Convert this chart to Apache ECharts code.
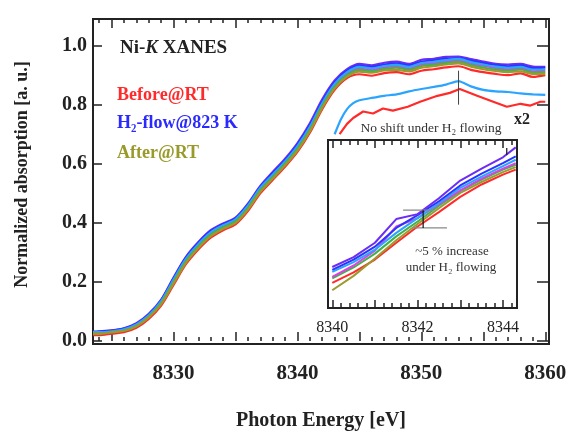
<!DOCTYPE html>
<html>
<head>
<meta charset="utf-8">
<script src="https://cdn.jsdelivr.net/npm/echarts@6/dist/echarts.min.js"></script>
<style>
  html, body { margin: 0; padding: 0; background: #fff; }
  #main { width: 585px; height: 436px; }
</style>
</head>
<body>
<div id="main"></div>
<script>
// photon energy grid of the main spectra [eV]
const energy = [8323.5, 8324, 8325, 8326, 8327, 8328, 8329, 8330, 8331, 8332, 8333, 8334, 8335,
  8336, 8337, 8338, 8339, 8340, 8341, 8342, 8343, 8344, 8345, 8346, 8347, 8348, 8349, 8350,
  8351, 8352, 8353, 8354, 8355, 8356, 8357, 8358, 8359, 8360];

// normalized absorption, one array per measurement
const before = [0.02, 0.02, 0.025, 0.03, 0.045, 0.075, 0.12, 0.19, 0.26, 0.31, 0.35, 0.375, 0.395,
  0.44, 0.50, 0.545, 0.59, 0.64, 0.705, 0.785, 0.85, 0.89, 0.903, 0.898, 0.907, 0.91, 0.903, 0.915,
  0.92, 0.926, 0.93, 0.918, 0.91, 0.904, 0.9, 0.906, 0.894, 0.9];
const magenta = [0.03, 0.03, 0.032, 0.038, 0.055, 0.085, 0.132, 0.205, 0.275, 0.325, 0.365, 0.39, 0.41,
  0.455, 0.515, 0.56, 0.605, 0.655, 0.72, 0.80, 0.865, 0.905, 0.922, 0.918, 0.926, 0.93, 0.922, 0.936,
  0.94, 0.946, 0.95, 0.938, 0.932, 0.924, 0.92, 0.924, 0.913, 0.916];
const violet = [0.032, 0.033, 0.036, 0.043, 0.06, 0.092, 0.14, 0.215, 0.285, 0.335, 0.375, 0.398, 0.418,
  0.465, 0.525, 0.572, 0.617, 0.67, 0.737, 0.818, 0.882, 0.92, 0.938, 0.933, 0.942, 0.946, 0.938, 0.952,
  0.955, 0.962, 0.963, 0.954, 0.946, 0.938, 0.936, 0.938, 0.929, 0.928];
const h2flow = [0.03, 0.032, 0.035, 0.042, 0.058, 0.09, 0.138, 0.212, 0.282, 0.332, 0.372, 0.395, 0.415,
  0.462, 0.522, 0.568, 0.612, 0.665, 0.73, 0.81, 0.875, 0.915, 0.932, 0.928, 0.936, 0.94, 0.933, 0.946,
  0.95, 0.956, 0.958, 0.949, 0.941, 0.934, 0.93, 0.933, 0.924, 0.925];
const skyblue = [0.03, 0.03, 0.033, 0.04, 0.056, 0.087, 0.135, 0.208, 0.278, 0.328, 0.368, 0.392, 0.412,
  0.458, 0.518, 0.563, 0.608, 0.66, 0.725, 0.805, 0.87, 0.91, 0.928, 0.923, 0.931, 0.935, 0.928, 0.941,
  0.945, 0.951, 0.955, 0.944, 0.936, 0.929, 0.925, 0.928, 0.919, 0.92];
const green = [0.025, 0.025, 0.03, 0.035, 0.05, 0.082, 0.128, 0.2, 0.27, 0.32, 0.36, 0.385, 0.405,
  0.45, 0.51, 0.555, 0.6, 0.65, 0.715, 0.795, 0.86, 0.90, 0.918, 0.913, 0.921, 0.925, 0.918, 0.931,
  0.935, 0.941, 0.945, 0.934, 0.926, 0.919, 0.915, 0.919, 0.909, 0.91];
const after = [0.025, 0.025, 0.03, 0.035, 0.05, 0.08, 0.125, 0.195, 0.265, 0.315, 0.355, 0.38, 0.4,
  0.445, 0.505, 0.55, 0.595, 0.645, 0.71, 0.79, 0.855, 0.895, 0.912, 0.908, 0.916, 0.918, 0.913, 0.925,
  0.93, 0.936, 0.94, 0.929, 0.92, 0.914, 0.91, 0.913, 0.904, 0.905];

// x2 scaled curves
const x2BlueE = [8343, 8343.5, 8344, 8344.5, 8345, 8346, 8347, 8348, 8349, 8350, 8351, 8352, 8353,
  8354, 8355, 8356, 8357, 8358, 8359, 8360];
const x2Blue = [0.70, 0.75, 0.785, 0.805, 0.815, 0.823, 0.83, 0.835, 0.845, 0.853, 0.86, 0.868, 0.88,
  0.862, 0.85, 0.845, 0.843, 0.838, 0.835, 0.833];
const x2RedE = [8343.4, 8344, 8344.5, 8345.3, 8346.1, 8346.9, 8347.7, 8348.9, 8349.9, 8351.3, 8352.3,
  8353.1, 8354.5, 8355.8, 8356.9, 8358, 8358.8, 8359.6, 8360];
const x2Red = [0.70, 0.735, 0.755, 0.777, 0.77, 0.787, 0.78, 0.793, 0.81, 0.83, 0.84, 0.853,
  0.83, 0.81, 0.793, 0.803, 0.797, 0.81, 0.81];
const peakMarkE = [8353, 8353];
const peakMark = [0.80, 0.915];

// inset: edge region 8340-8344 eV
const insetE = [8340, 8340.5, 8341, 8341.5, 8342, 8342.5, 8343, 8343.5, 8344, 8344.3];
const inViolet = [0.673, 0.693, 0.722, 0.770, 0.780, 0.812, 0.848, 0.872, 0.895, 0.915];
const inBlue = [0.667, 0.688, 0.714, 0.752, 0.778, 0.806, 0.838, 0.862, 0.883, 0.897];
const inSky = [0.663, 0.683, 0.708, 0.742, 0.772, 0.802, 0.833, 0.856, 0.877, 0.89];
const inMagenta = [0.653, 0.676, 0.706, 0.755, 0.772, 0.80, 0.828, 0.852, 0.872, 0.883];
const inGreen = [0.65, 0.672, 0.70, 0.735, 0.765, 0.797, 0.827, 0.85, 0.87, 0.88];
const inRed = [0.641, 0.662, 0.688, 0.722, 0.755, 0.784, 0.815, 0.840, 0.860, 0.870];
const inAfter = [0.626, 0.655, 0.69, 0.727, 0.760, 0.792, 0.823, 0.845, 0.865, 0.875];
// annotation marks in the inset
const markHiE = [8341.66, 8342.36];
const markHi = [0.788, 0.788];
const markLoE = [8341.87, 8342.69];
const markLo = [0.752, 0.752];
const markVE = [8342.13, 8342.13];
const markV = [0.788, 0.752];
const markTopE = [8344.09, 8344.09];
const markTop = [0.914, 0.900];

// axis ticks and labels
const xLabels = [8330, 8340, 8350, 8360];
const xMajor = [8325, 8330, 8335, 8340, 8345, 8350, 8355, 8360];
const xMinor = [];
for (let e = 8324; e <= 8360; e++) xMinor.push(e);
const yLabels = [0, 0.2, 0.4, 0.6, 0.8, 1.0];
const inLabels = [8340, 8342, 8344];
const inMajor = [8340, 8341, 8342, 8343, 8344];
const inMinor = [];
for (let k = 0; k <= 21; k++) inMinor.push(+(8340 + k * 0.2).toFixed(1));

const serif = 'Liberation Serif';
const pair = (xs, ys) => xs.map((x, i) => [x, ys[i]]);

function tickAxis(grid, pos, min, max, ticks, len, labels, labelOpt) {
  return {
    type: 'value', gridIndex: grid, position: pos, min: min, max: max,
    axisLine: { show: false },
    splitLine: { show: false },
    axisTick: { show: true, inside: true, length: len, customValues: ticks,
      lineStyle: { color: '#222', width: 1.5 } },
    axisLabel: labels ? Object.assign({ customValues: labels, formatter: v => String(v) }, labelOpt)
      : { show: false }
  };
}

const chart = echarts.init(document.getElementById('main'));

const mainLines = [
  ['Before@RT', before, '#ff2a2a'],
  ['magenta', magenta, '#e23ee6'],
  ['violet', violet, '#6b2cf5'],
  ['H2-flow@823 K', h2flow, '#2a34ff'],
  ['sky', skyblue, '#2aa4ff'],
  ['green', green, '#3fb24a'],
  ['After@RT', after, '#9c9a2e']
];
const insetLines = [
  ['Before@RT', inRed, '#ff2a2a'],
  ['After@RT', inAfter, '#9c9a2e'],
  ['green', inGreen, '#3fb24a'],
  ['magenta', inMagenta, '#e23ee6'],
  ['sky', inSky, '#2aa4ff'],
  ['H2-flow@823 K', inBlue, '#2a34ff'],
  ['violet', inViolet, '#6b2cf5']
];

const series = [];
mainLines.forEach(([name, ys, c]) => series.push({
  name: name, type: 'line', xAxisIndex: 0, yAxisIndex: 0, data: pair(energy, ys),
  showSymbol: false, smooth: 0.3, lineStyle: { color: c, width: 2.2 }
}));
series.push({ type: 'line', xAxisIndex: 0, yAxisIndex: 0, data: pair(x2BlueE, x2Blue),
  showSymbol: false, smooth: 0.2, lineStyle: { color: '#2aa4ff', width: 2.2 } });
series.push({ type: 'line', xAxisIndex: 0, yAxisIndex: 0, data: pair(x2RedE, x2Red),
  showSymbol: false, lineStyle: { color: '#ff2a2a', width: 2.2 } });
series.push({ type: 'line', xAxisIndex: 0, yAxisIndex: 0, data: pair(peakMarkE, peakMark),
  showSymbol: false, lineStyle: { color: '#444', width: 1 } });
insetLines.forEach(([name, ys, c]) => series.push({
  type: 'line', xAxisIndex: 4, yAxisIndex: 2, data: pair(insetE, ys),
  showSymbol: false, lineStyle: { color: c, width: 2 }
}));
[[markHiE, markHi, '#888'], [markLoE, markLo, '#888'], [markVE, markV, '#111'],
 [markTopE, markTop, '#111']].forEach(([xs, ys, c]) => series.push({
  type: 'line', xAxisIndex: 4, yAxisIndex: 2, data: pair(xs, ys),
  showSymbol: false, lineStyle: { color: c, width: 1.2 }
}));

chart.setOption({
  animation: false,
  backgroundColor: '#fff',
  grid: [
    { left: 93, top: 19, width: 456, height: 330, show: true, borderColor: '#222', borderWidth: 2 },
    { left: 328, top: 140, width: 189, height: 168, show: true, borderColor: '#222', borderWidth: 2,
      backgroundColor: '#fff' }
  ],
  xAxis: [
    Object.assign(tickAxis(0, 'bottom', 8323.5, 8360.3, xMajor, 9, xLabels,
      { fontFamily: serif, fontWeight: 'bold', fontSize: 21, color: '#222', margin: 19 }),
      { name: 'Photon Energy [eV]', nameLocation: 'middle', nameGap: 67,
        nameTextStyle: { fontFamily: serif, fontWeight: 'bold', fontSize: 20, color: '#222' } }),
    tickAxis(0, 'bottom', 8323.5, 8360.3, xMinor, 4),
    tickAxis(0, 'top', 8323.5, 8360.3, xMajor, 9),
    tickAxis(0, 'top', 8323.5, 8360.3, xMinor, 4),
    tickAxis(1, 'bottom', 8339.9, 8344.33, inMajor, 8, inLabels,
      { fontFamily: serif, fontSize: 16, color: '#222', margin: 12 }),
    tickAxis(1, 'bottom', 8339.9, 8344.33, inMinor, 5),
    tickAxis(1, 'top', 8339.9, 8344.33, inMajor, 8),
    tickAxis(1, 'top', 8339.9, 8344.33, inMinor, 5)
  ],
  yAxis: [
    Object.assign(tickAxis(0, 'left', -0.01, 1.09, yLabels, 9, yLabels,
      { fontFamily: serif, fontWeight: 'bold', fontSize: 20, color: '#222', margin: 6,
        formatter: v => v.toFixed(1) }),
      { name: 'Normalized absorption [a. u.]', nameLocation: 'middle', nameGap: 62,
        nameTextStyle: { fontFamily: serif, fontWeight: 'bold', fontSize: 18, color: '#222',
          padding: [0, 0, 0, 14] } }),
    tickAxis(0, 'right', -0.01, 1.09, yLabels, 12),
    { type: 'value', gridIndex: 1, min: 0.59, max: 0.93, show: false },
    { type: 'value', gridIndex: 1, position: 'right', min: 0.59, max: 0.93, show: false }
  ],
  series: series,
  graphic: [
    { type: 'text', left: 120, top: 39, style: {
      text: '{a|Ni-}{b|K}{a| XANES}', fill: '#222',
      rich: { a: { fontFamily: serif, fontWeight: 'bold', fontSize: 19, fill: '#222' },
              b: { fontFamily: serif, fontWeight: 'bold', fontStyle: 'italic', fontSize: 19, fill: '#222' } } } },
    { type: 'text', left: 117, top: 86, style: { text: 'Before@RT', fill: '#ff2a2a',
      font: 'bold 18px "Liberation Serif"' } },
    { type: 'text', left: 117, top: 114, style: { text: 'H₂-flow@823 K', fill: '#2a2aff',
      font: 'bold 18px "Liberation Serif"' } },
    { type: 'text', left: 117, top: 144, style: { text: 'After@RT', fill: '#9a9a2a',
      font: 'bold 18px "Liberation Serif"' } },
    { type: 'text', x: 431, y: 128, style: { text: 'No shift under H₂ flowing', fill: '#333',
      font: '13.5px "Liberation Serif"', textAlign: 'center', textVerticalAlign: 'middle' } },
    { type: 'text', left: 514, top: 112, style: { text: 'x2', fill: '#222',
      font: 'bold 16px "Liberation Serif"' } },
    { type: 'text', x: 452, y: 252, style: { text: '~5 % increase', fill: '#333',
      font: '13px "Liberation Serif"', textAlign: 'center', textVerticalAlign: 'middle' } },
    { type: 'text', x: 451, y: 268, style: { text: 'under H₂ flowing', fill: '#333',
      font: '13px "Liberation Serif"', textAlign: 'center', textVerticalAlign: 'middle' } }
  ]
});
</script>
</body>
</html>
